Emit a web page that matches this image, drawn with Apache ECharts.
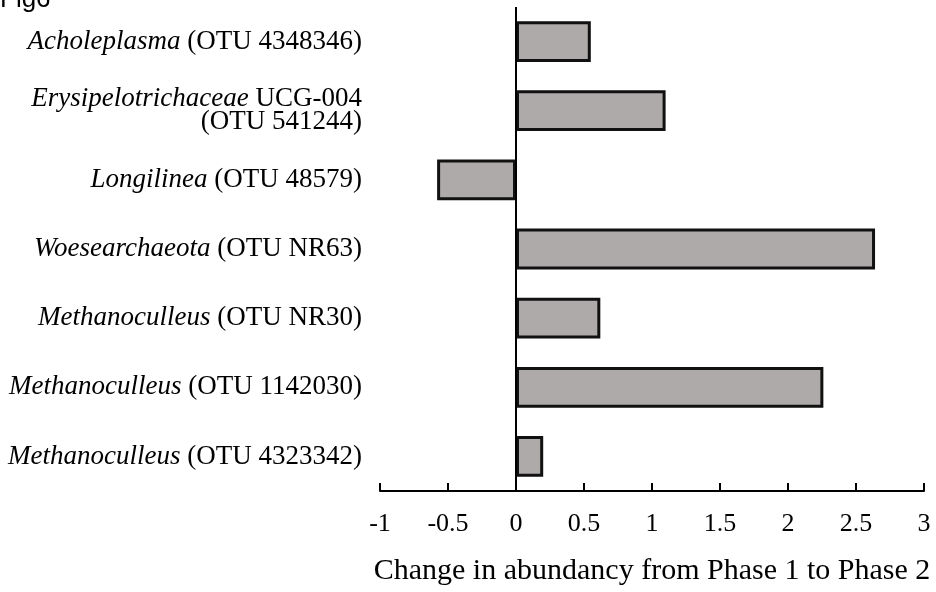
<!DOCTYPE html>
<html style="height: 100%">
<head>
    <meta charset="utf-8">
    <title>Fig6</title>
</head>
<body style="height: 100%; margin: 0; background: #fff;">
    <div id="container" style="width: 936px; height: 592px;"></div>
    <script src="https://cdn.jsdelivr.net/npm/echarts@6/dist/echarts.min.js"></script>
    <script type="text/javascript">
        // taxa, top to bottom
        var genus = ['Acholeplasma', 'Erysipelotrichaceae', 'Longilinea', 'Woesearchaeota',
            'Methanoculleus', 'Methanoculleus', 'Methanoculleus'];
        var suffix = [' (OTU 4348346)', ' UCG-004\n(OTU 541244)', ' (OTU 48579)', ' (OTU NR63)',
            ' (OTU NR30)', ' (OTU 1142030)', ' (OTU 4323342)'];
        var changes = [0.55, 1.10, -0.58, 2.64, 0.62, 2.26, 0.20];

        var cats = genus.map(function (g, i) { return String(i); });

        var serif = '"Liberation Serif", "Times New Roman", serif';

        var dom = document.getElementById('container');
        var myChart = echarts.init(dom);

        var option = {
            animation: false,
            graphic: [{
                type: 'text',
                left: 0,
                top: -13,
                style: { text: 'Fig6', font: '26px "Liberation Sans", Arial, sans-serif', fill: '#000' }
            }],
            grid: { left: 380, right: 12, top: 7, bottom: 101, containLabel: false },
            xAxis: {
                type: 'value',
                min: -1,
                max: 3,
                interval: 0.5,
                splitLine: { show: false },
                axisLine: { show: true, onZero: false, lineStyle: { color: '#000', width: 2 } },
                axisTick: { show: true, inside: true, length: 8, lineStyle: { color: '#000', width: 2 } },
                axisLabel: { color: '#000', fontFamily: serif, fontSize: 26, margin: 20 },
                name: 'Change in abundancy from Phase 1 to Phase 2',
                nameLocation: 'middle',
                nameGap: 65,
                nameTextStyle: { color: '#000', fontFamily: serif, fontSize: 30 }
            },
            yAxis: {
                type: 'category',
                inverse: true,
                data: cats,
                axisLine: { show: false },
                axisTick: { show: false },
                axisLabel: {
                    margin: 18,
                    color: '#000',
                    formatter: function (v) {
                        var i = Number(v);
                        var parts = suffix[i].split('\n');
                        var s = '{i|' + genus[i] + '}{n|' + parts[0] + '}';
                        if (parts.length > 1) s += '\n{n|' + parts[1] + '}';
                        return s;
                    },
                    rich: {
                        i: { fontFamily: serif, fontSize: 27, fontStyle: 'italic', color: '#000', lineHeight: 23 },
                        n: { fontFamily: serif, fontSize: 27, color: '#000', lineHeight: 23 }
                    }
                }
            },
            series: [{
                type: 'bar',
                data: changes,
                barWidth: '59%',
                itemStyle: { color: '#aeaaa9', borderColor: '#111', borderWidth: 3 },
                markLine: {
                    silent: true,
                    symbol: 'none',
                    label: { show: false },
                    lineStyle: { color: '#000', width: 2, type: 'solid' },
                    data: [{ xAxis: 0 }]
                }
            }]
        };
        myChart.setOption(option, true);
    </script>
</body>
</html>
